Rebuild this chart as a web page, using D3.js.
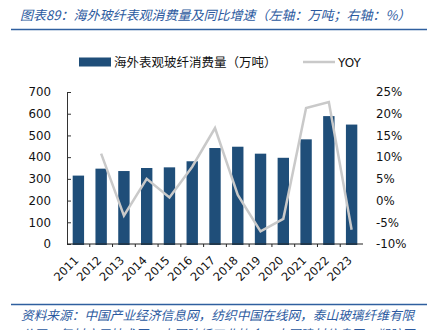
<!DOCTYPE html>
<html><head><meta charset="utf-8">
<script src="https://cdn.jsdelivr.net/npm/d3@7"></script>
<style>body{margin:0;background:#fff}svg{display:block}</style>
</head><body>
<svg id="c" width="431" height="330"></svg>
<script>
const years = ["2011","2012","2013","2014","2015","2016","2017","2018","2019","2020","2021","2022","2023"];
const consumption = [315,347,336,350,353,381,442,448,416,397,482,589,550];
const yoy = [null,10.8,-3.5,5.0,0.7,7.8,16.7,1.3,-7.1,-4.2,21.3,22.7,-6.7];
const leftTicks = [0,100,200,300,400,500,600,700];
const rightTicks = [-10,-5,0,5,10,15,20,25];
const titleText = "图表89：海外玻纤表观消费量及同比增速（左轴：万吨；右轴：%）";
const sourceLines = ["资料来源：中国产业经济信息网，纺织中国在线网，泰山玻璃纤维有限","公司，复材应用技术网，中国玻纤工业协会，中国建材信息网，塑胶网"];
const legendBar = "海外表观玻纤消费量（万吨）";
const legendLine = "YOY";

const svg = d3.select("#c");
const cjk = "'Noto Sans CJK SC', sans-serif";
const latin = "'DejaVu Sans', sans-serif";
const blue = "#2c5aa0";
const barColor = "#1f4e79";
const lineColor = "#c9c9c9";

// title
svg.append("text").attr("x",20).attr("y",19.5).attr("font-family",cjk).attr("font-size",13)
  .attr("font-style","italic").attr("fill",blue).text(titleText);
svg.append("line").attr("x1",11).attr("x2",427).attr("y1",29.5).attr("y2",29.5).attr("stroke","#2f5f9f").attr("stroke-width",1.6);
svg.append("line").attr("x1",11).attr("x2",427).attr("y1",304.5).attr("y2",304.5).attr("stroke","#2f5f9f").attr("stroke-width",1.6);
sourceLines.forEach((t,i)=>{
  svg.append("text").attr("x",21).attr("y",319.5+i*19.5).attr("font-family",cjk).attr("font-size",12.7)
    .attr("font-style","italic").attr("fill",blue).text(t);
});

// legend
svg.append("rect").attr("x",79).attr("y",57.5).attr("width",32).attr("height",9).attr("fill",barColor);
svg.append("text").attr("x",114).attr("y",66.5).attr("font-family",cjk).attr("font-size",12.5).attr("fill","#111").text(legendBar);
svg.append("line").attr("x1",303).attr("x2",335).attr("y1",62).attr("y2",62).attr("stroke",lineColor).attr("stroke-width",2.5);
svg.append("text").attr("x",338).attr("y",66.5).attr("font-family",latin).attr("font-size",12).attr("fill","#111").text(legendLine);

// scales
const x = d3.scaleBand().domain(years).range([67,363]).paddingInner(0.5).paddingOuter(0.25);
const yL = d3.scaleLinear().domain([0,700]).range([244,92]);
const yR = d3.scaleLinear().domain([-10,25]).range([244,92]);

// bars
svg.append("g").selectAll("rect").data(years).join("rect")
  .attr("x",d=>x(d)).attr("width",x.bandwidth())
  .attr("y",(d,i)=>yL(consumption[i])).attr("height",(d,i)=>yL(0)-yL(consumption[i])+1)
  .attr("fill",barColor);

// line
const pts = years.map((d,i)=>({d,v:yoy[i]})).filter(p=>p.v!==null);
svg.append("path").datum(pts)
  .attr("d",d3.line().x(p=>x(p.d)+x.bandwidth()/2).y(p=>yR(p.v)))
  .attr("fill","none").attr("stroke",lineColor).attr("stroke-width",2.5).attr("stroke-linejoin","miter");

// left axis
const gL = svg.append("g").attr("transform","translate(67,0)")
  .call(d3.axisLeft(yL).tickValues(leftTicks).tickSizeInner(-4).tickSizeOuter(0).tickPadding(16));
gL.select(".domain").attr("stroke","#333");
gL.selectAll(".tick line").attr("stroke","#333");
gL.selectAll("text").attr("font-family",latin).attr("font-size",11.8).attr("fill","#111");

// right axis
const gR = svg.append("g").attr("transform","translate(363,0)")
  .call(d3.axisRight(yR).tickValues(rightTicks).tickSize(0).tickPadding(13).tickFormat(d=>d+"%"));
gR.select(".domain").remove();
gR.selectAll("text").attr("font-family",latin).attr("font-size",11.8).attr("fill","#111");

// x axis
const gX = svg.append("g").attr("transform","translate(0,244)");
gX.append("line").attr("x1",67).attr("x2",363).attr("y1",0).attr("y2",0).attr("stroke","#222").attr("stroke-width",1.2);
gX.selectAll(".tk").data(d3.range(1,years.length)).join("line")
  .attr("x1",i=>x(years[i])-x.bandwidth()/2).attr("x2",i=>x(years[i])-x.bandwidth()/2)
  .attr("y1",0).attr("y2",3).attr("stroke","#222");
gX.selectAll("text").data(years).join("text")
  .attr("transform",d=>`translate(${x(d)+x.bandwidth()/2+1},17) rotate(-45)`)
  .attr("text-anchor","end").attr("font-family",latin).attr("font-size",11.5).attr("fill","#111").text(d=>d);
</script>
</body></html>
